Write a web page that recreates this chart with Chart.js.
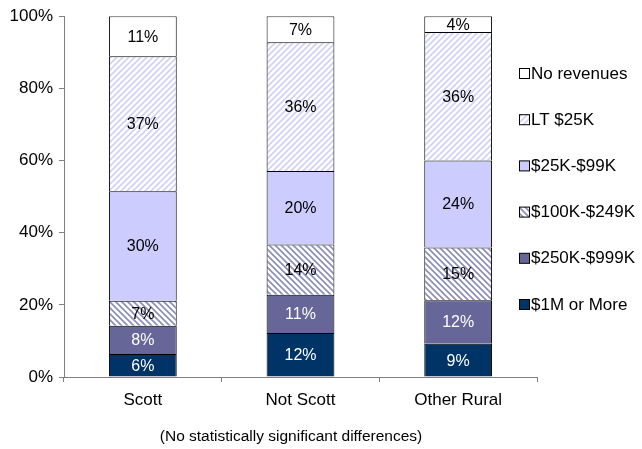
<!DOCTYPE html>
<html lang="en">
<head>
    <meta charset="UTF-8">
    <script src="https://cdn.jsdelivr.net/npm/chart.js@4.4.0/dist/chart.umd.min.js"></script>
    <title>Revenue distribution</title>
    <style>
        html, body { margin: 0; padding: 0; background: #fff; }
        #wrap { width: 642px; height: 449px; }
    </style>
</head>
<body>
    <div id="wrap"><canvas id="chart" width="642" height="449"></canvas></div>

    <script>
        const categories = ['Scott', 'Not Scott', 'Other Rural'];
        const seriesNames = ['$1M or More', '$250K-$999K', '$100K-$249K', '$25K-$99K', 'LT $25K', 'No revenues'];

        // percent of respondents, bottom segment first
        const m1Plus   = [6.4, 12.2, 9.2];
        const k250     = [7.8, 10.6, 12.1];
        const k100     = [6.9, 13.9, 14.6];
        const k25      = [30.4, 20.4, 24.1];
        const lt25     = [37.4, 35.7, 35.6];
        const noRev    = [11.1, 7.2, 4.4];
        const seriesValues = [m1Plus, k250, k100, k25, lt25, noRev];

        const note = '(No statistically significant differences)';
        const FONT = "Arial, 'Liberation Sans', sans-serif";

        function hatch(color, dir) {
            const s = 6;
            const c = document.createElement('canvas');
            c.width = s; c.height = s;
            const g = c.getContext('2d');
            g.fillStyle = '#ffffff';
            g.fillRect(0, 0, s, s);
            g.strokeStyle = color;
            g.lineWidth = 1.6;
            g.beginPath();
            if (dir === '/') {
                g.moveTo(-1, s + 1); g.lineTo(s + 1, -1);
                g.moveTo(-1, 1); g.lineTo(1, -1);
                g.moveTo(s - 1, s + 1); g.lineTo(s + 1, s - 1);
            } else {
                g.moveTo(-1, -1); g.lineTo(s + 1, s + 1);
                g.moveTo(s - 1, -1); g.lineTo(s + 1, 1);
                g.moveTo(-1, s - 1); g.lineTo(1, s + 1);
            }
            g.stroke();
            return document.getElementById('chart').getContext('2d').createPattern(c, 'repeat');
        }

        const fills = ['#003366', '#666699', hatch('#8c8cb8', '\\'), '#ccccff', hatch('#d0d0f8', '/'), '#ffffff'];
        const labelColors = ['#ffffff', '#ffffff', '#000000', '#000000', '#000000', '#000000'];

        const barLabels = {
            id: 'barLabels',
            afterDatasetsDraw(chart) {
                const ctx = chart.ctx;
                ctx.save();
                ctx.font = '16px ' + FONT;
                ctx.textAlign = 'center';
                ctx.textBaseline = 'middle';
                chart.data.datasets.forEach((ds, i) => {
                    chart.getDatasetMeta(i).data.forEach((bar, j) => {
                        const p = bar.getCenterPoint();
                        ctx.fillStyle = ds.labelColor;
                        ctx.fillText(Math.round(ds.data[j]) + '%', p.x, p.y + 1);
                    });
                });
                ctx.restore();
            }
        };

        const sideLegend = {
            id: 'sideLegend',
            afterDraw(chart) {
                const ctx = chart.ctx;
                const ds = chart.data.datasets;
                ctx.save();
                ctx.font = '17px ' + FONT;
                ctx.textBaseline = 'middle';
                ctx.textAlign = 'left';
                for (let k = 0; k < ds.length; k++) {
                    const d = ds[ds.length - 1 - k];
                    const y = 74 + k * 46.2;
                    ctx.fillStyle = d.backgroundColor;
                    ctx.fillRect(519.5, y - 5.5, 10, 10);
                    ctx.strokeStyle = '#000';
                    ctx.lineWidth = 1;
                    ctx.strokeRect(519.5, y - 5.5, 10, 10);
                    ctx.fillStyle = '#000';
                    ctx.fillText(d.label, 531, y);
                }
                // footnote under the axis
                ctx.font = '15.5px ' + FONT;
                ctx.textAlign = 'center';
                ctx.fillText(note, 291, 437);
                ctx.restore();
            }
        };

        new Chart(document.getElementById('chart'), {
            type: 'bar',
            data: {
                labels: categories,
                datasets: seriesNames.map((name, i) => ({
                    label: name,
                    data: seriesValues[i],
                    backgroundColor: fills[i],
                    borderColor: '#000000',
                    borderWidth: 1,
                    labelColor: labelColors[i],
                    categoryPercentage: 1,
                    barPercentage: 0.43
                }))
            },
            options: {
                responsive: false,
                animation: false,
                layout: { padding: { top: 16, right: 105, left: 0, bottom: 0 } },
                plugins: {
                    legend: { display: false },
                    tooltip: { enabled: false },
                    title: { display: false }
                },
                scales: {
                    x: {
                        stacked: true,
                        afterFit(scale) { scale.height = 72; },
                        grid: {
                            offset: true,
                            drawOnChartArea: false,
                            drawTicks: true,
                            tickLength: 5,
                            color: '#808080'
                        },
                        border: { color: '#808080', width: 1 },
                        ticks: { color: '#000', padding: 8, font: { family: FONT, size: 17 } }
                    },
                    y: {
                        stacked: true,
                        min: 0,
                        max: 100,
                        afterFit(scale) { scale.width = 64; },
                        grid: {
                            drawOnChartArea: false,
                            drawTicks: true,
                            tickLength: 5,
                            color: '#808080'
                        },
                        border: { color: '#808080', width: 1 },
                        ticks: {
                            stepSize: 20,
                            color: '#000',
                            padding: 6,
                            font: { family: FONT, size: 17 },
                            callback: v => v + '%'
                        }
                    }
                }
            },
            plugins: [barLabels, sideLegend]
        });
    </script>
</body>
</html>
